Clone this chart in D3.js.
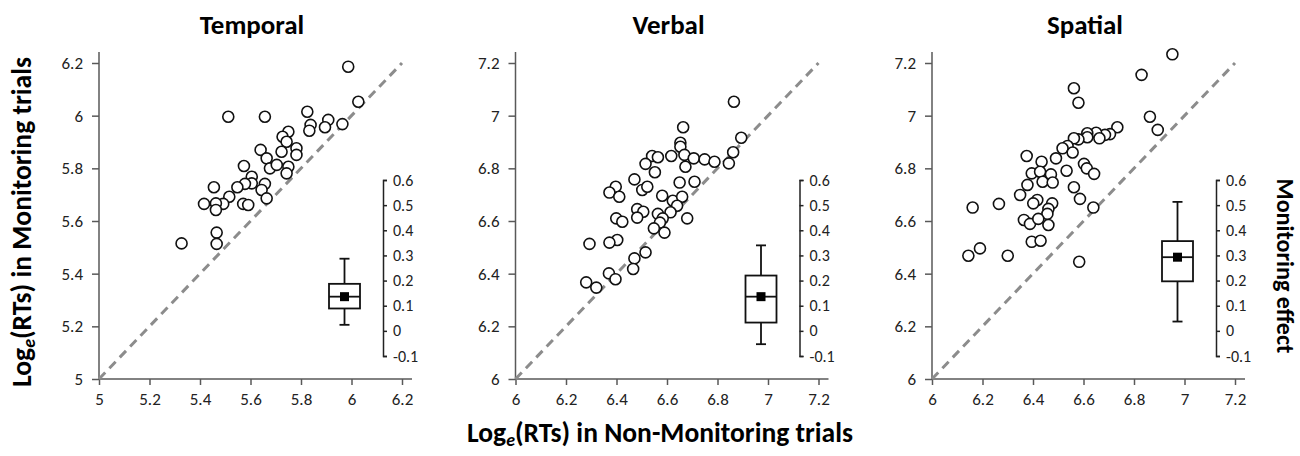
<!DOCTYPE html>
<html>
<head>
<meta charset="utf-8">
<style>
body { margin: 0; background: #fff; }
svg text { font-family: Calibri, Carlito, Lato, sans-serif; fill: #222; }
.title { font-weight: bold; fill: #000; }
.axlabel { font-weight: bold; fill: #000; }
</style>
</head>
<body>
<svg width="1300" height="456"></svg>
<script src="https://d3js.org/d3.v7.min.js"></script>
<script>

// panel names and axis starts
var panelNames = ["Temporal", "Verbal", "Spatial"];
var axisStart = [5, 6, 6];
var mainTicks = [[5, 5.2, 5.4, 5.6, 5.8, 6, 6.2], [6, 6.2, 6.4, 6.6, 6.8, 7, 7.2], [6, 6.2, 6.4, 6.6, 6.8, 7, 7.2]];
var effectTicks = [-0.1, 0, 0.1, 0.2, 0.3, 0.4, 0.5, 0.6];

// Log RTs, non-monitoring (x) vs monitoring (y)
var temporalX = [5.987, 6.027, 5.512, 5.657, 5.825, 5.838, 5.833, 5.908, 5.895, 5.964, 5.750, 5.727, 5.743, 5.782, 5.782, 5.723, 5.640, 5.664, 5.677, 5.704, 5.750, 5.743, 5.574, 5.605, 5.605, 5.578, 5.548, 5.657, 5.644, 5.664, 5.455, 5.516, 5.492, 5.463, 5.463, 5.416, 5.571, 5.591, 5.466, 5.466, 5.327];
var temporalY = [6.186, 6.053, 5.996, 5.996, 6.015, 5.965, 5.943, 5.984, 5.956, 5.968, 5.939, 5.920, 5.901, 5.876, 5.851, 5.863, 5.870, 5.838, 5.800, 5.813, 5.806, 5.781, 5.809, 5.768, 5.743, 5.741, 5.728, 5.741, 5.718, 5.686, 5.728, 5.692, 5.665, 5.667, 5.642, 5.665, 5.665, 5.661, 5.556, 5.513, 5.515];

var verbalX = [6.865, 6.894, 6.862, 6.845, 6.664, 6.653, 6.653, 6.669, 6.673, 6.617, 6.706, 6.749, 6.788, 6.541, 6.564, 6.515, 6.552, 6.471, 6.502, 6.522, 6.650, 6.709, 6.397, 6.372, 6.411, 6.581, 6.623, 6.660, 6.640, 6.482, 6.506, 6.482, 6.564, 6.614, 6.583, 6.572, 6.680, 6.399, 6.423, 6.548, 6.590, 6.403, 6.372, 6.293, 6.515, 6.471, 6.466, 6.370, 6.396, 6.280, 6.320];
var verbalY = [7.053, 6.916, 6.861, 6.819, 6.956, 6.897, 6.882, 6.851, 6.806, 6.847, 6.838, 6.834, 6.825, 6.847, 6.842, 6.817, 6.785, 6.758, 6.718, 6.730, 6.746, 6.749, 6.730, 6.708, 6.692, 6.696, 6.677, 6.692, 6.658, 6.645, 6.635, 6.613, 6.627, 6.633, 6.610, 6.594, 6.610, 6.610, 6.597, 6.572, 6.556, 6.528, 6.518, 6.513, 6.481, 6.458, 6.418, 6.401, 6.379, 6.367, 6.347];

var spatialX = [6.952, 6.830, 6.562, 6.580, 6.863, 6.894, 6.734, 6.705, 6.685, 6.650, 6.663, 6.615, 6.615, 6.580, 6.562, 6.537, 6.517, 6.557, 6.491, 6.375, 6.434, 6.602, 6.613, 6.642, 6.533, 6.395, 6.428, 6.471, 6.438, 6.478, 6.378, 6.349, 6.562, 6.586, 6.417, 6.401, 6.476, 6.461, 6.457, 6.639, 6.265, 6.161, 6.364, 6.388, 6.421, 6.461, 6.395, 6.430, 6.190, 6.144, 6.300, 6.583];
var spatialY = [7.233, 7.155, 7.104, 7.049, 6.996, 6.946, 6.956, 6.930, 6.927, 6.935, 6.914, 6.933, 6.918, 6.910, 6.914, 6.885, 6.876, 6.860, 6.838, 6.847, 6.825, 6.817, 6.800, 6.779, 6.791, 6.781, 6.787, 6.777, 6.749, 6.746, 6.737, 6.699, 6.728, 6.684, 6.680, 6.667, 6.667, 6.646, 6.627, 6.651, 6.665, 6.651, 6.604, 6.589, 6.608, 6.585, 6.521, 6.525, 6.496, 6.468, 6.468, 6.445];

// monitoring effect box plots: [whisker low, q1, median, q3, whisker high], mean
var boxStats = [[0.024, 0.089, 0.136, 0.187, 0.287], [-0.053, 0.033, 0.136, 0.220, 0.340], [0.037, 0.197, 0.293, 0.357, 0.513]];
var boxMeans = [0.136, 0.136, 0.293];

var xs = [temporalX, verbalX, spatialX];
var ys = [temporalY, verbalY, spatialY];

var svg = d3.select("svg");
var panelLeft = [99, 515.5, 932];
var plotW = 303, yTop = 63, yBottom = 379;
var tickFont = "17px", insetFont = "16px";

var fmt = function(d) { return d3.format(".1f")(d).replace(/\.0$/, "").replace("\u2212", "-"); };

// scale a text's font so it spans the given width
function fitWidth(sel, base, target) {
    sel.style("font-size", base + "px");
    var w = sel.node().getComputedTextLength();
    var size = base * target / w;
    sel.style("font-size", size + "px");
    return size;
}

var titles = [];

panelNames.forEach(function(name, i) {
    var lo = axisStart[i];
    var ox = panelLeft[i];
    var x = d3.scaleLinear().domain([lo, lo + 1.2]).range([ox, ox + plotW]);
    var y = d3.scaleLinear().domain([lo, lo + 1.2]).range([yBottom, yTop]);
    var g = svg.append("g");

    // axes
    var gx = g.append("g")
        .attr("transform", "translate(0," + yBottom + ")")
        .call(d3.axisBottom(x).tickValues(mainTicks[i]).tickSize(6).tickPadding(8).tickFormat(fmt));
    var gy = g.append("g")
        .attr("transform", "translate(" + ox + ",0)")
        .call(d3.axisLeft(y).tickValues(mainTicks[i]).tickSize(7).tickPadding(9).tickFormat(fmt));
    [gx, gy].forEach(function(a) {
        a.select(".domain").remove();
        a.selectAll(".tick line").attr("stroke", "#595959").attr("stroke-width", 1.5);
        a.selectAll(".tick text").attr("fill", "#222").style("font-size", tickFont);
    });
    g.append("line")
        .attr("x1", ox).attr("x2", ox + plotW + 10)
        .attr("y1", yBottom).attr("y2", yBottom)
        .attr("stroke", "#595959").attr("stroke-width", 1.5);
    g.append("line")
        .attr("x1", ox).attr("x2", ox)
        .attr("y1", yBottom).attr("y2", yTop - 11)
        .attr("stroke", "#595959").attr("stroke-width", 1.5);

    // identity line
    g.append("line")
        .attr("x1", x(lo)).attr("y1", y(lo))
        .attr("x2", x(lo + 1.2)).attr("y2", y(lo + 1.2))
        .attr("stroke", "#8c8c8c").attr("stroke-width", 3)
        .attr("stroke-dasharray", "9,6");

    // points
    g.append("g").selectAll("circle")
        .data(xs[i].map(function(v, k) { return [v, ys[i][k]]; }))
        .enter().append("circle")
        .attr("cx", function(d) { return x(d[0]); })
        .attr("cy", function(d) { return y(d[1]); })
        .attr("r", 5.5)
        .attr("fill", "#fff")
        .attr("stroke", "#111")
        .attr("stroke-width", 1.6);

    // inset monitoring-effect axis
    var e = d3.scaleLinear().domain([-0.1, 0.6]).range([356, 180]);
    var axX = ox + 284;
    var gi = g.append("g")
        .attr("transform", "translate(" + axX + ",0)")
        .call(d3.axisRight(e).tickValues(effectTicks).tickSizeInner(4).tickSizeOuter(4).tickPadding(6)
            .tickFormat(function(d) { return d === 0 ? "0" : fmt(d); }));
    gi.select(".domain").attr("stroke", "#222").attr("stroke-width", 1.5);
    gi.selectAll(".tick line").attr("stroke", "#222").attr("stroke-width", 1.5);
    gi.selectAll(".tick text").attr("fill", "#222").style("font-size", insetFont);

    // box plot
    var s = boxStats[i];
    var bx = ox + 245.5, bw = 31, cap = 10;
    var bg = g.append("g").attr("stroke", "#111").attr("stroke-width", 1.8).attr("fill", "none");
    bg.append("line").attr("x1", bx).attr("x2", bx).attr("y1", e(s[4])).attr("y2", e(s[3]));
    bg.append("line").attr("x1", bx).attr("x2", bx).attr("y1", e(s[1])).attr("y2", e(s[0]));
    bg.append("line").attr("x1", bx - cap / 2).attr("x2", bx + cap / 2).attr("y1", e(s[4])).attr("y2", e(s[4]));
    bg.append("line").attr("x1", bx - cap / 2).attr("x2", bx + cap / 2).attr("y1", e(s[0])).attr("y2", e(s[0]));
    bg.append("rect")
        .attr("x", bx - bw / 2).attr("width", bw)
        .attr("y", e(s[3])).attr("height", e(s[1]) - e(s[3]))
        .attr("fill", "#fff");
    bg.append("line").attr("x1", bx - bw / 2).attr("x2", bx + bw / 2).attr("y1", e(s[2])).attr("y2", e(s[2]));
    g.append("rect")
        .attr("x", bx - 4.5).attr("y", e(boxMeans[i]) - 4.5)
        .attr("width", 9).attr("height", 9)
        .attr("fill", "#000");

    // title
    titles.push(g.append("text")
        .attr("class", "title")
        .attr("x", ox + 153).attr("y", 34)
        .attr("text-anchor", "middle")
        .text(name));
});

// panel titles share one size, fitted on "Spatial"
var titleSize = fitWidth(titles[2], 20, 76);
titles.forEach(function(t) { t.style("font-size", titleSize + "px"); });

// axis titles
var yl = svg.append("text")
    .attr("class", "axlabel")
    .attr("transform", "translate(31,222) rotate(-90)")
    .attr("text-anchor", "middle");
yl.append("tspan").text("Log");
yl.append("tspan").attr("font-style", "italic").attr("font-size", "0.65em").attr("dy", "0.25em").text("e");
yl.append("tspan").attr("dy", "-0.16em").text("(RTs) in Monitoring trials");
fitWidth(yl, 20, 330);

var xl = svg.append("text")
    .attr("class", "axlabel")
    .attr("x", 660).attr("y", 442)
    .attr("text-anchor", "middle");
xl.append("tspan").text("Log");
xl.append("tspan").attr("font-style", "italic").attr("font-size", "0.65em").attr("dy", "0.25em").text("e");
xl.append("tspan").attr("dy", "-0.16em").text("(RTs) in Non-Monitoring trials");
fitWidth(xl, 20, 386);

var ml = svg.append("text")
    .attr("class", "axlabel")
    .attr("transform", "translate(1277,266) rotate(90)")
    .attr("text-anchor", "middle")
    .text("Monitoring effect");
fitWidth(ml, 20, 175);

</script>
</body>
</html>
